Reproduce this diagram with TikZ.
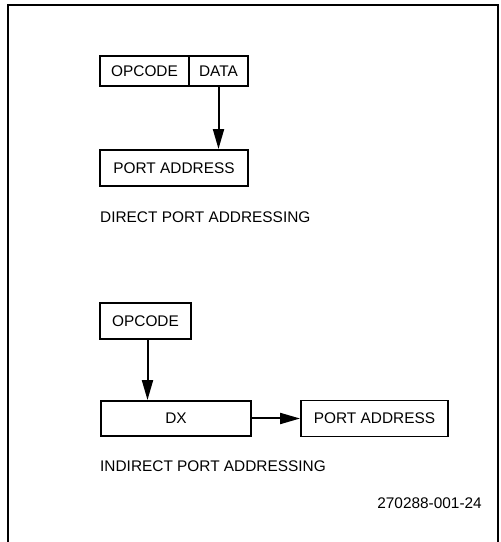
\documentclass[tikz,border=0pt]{standalone}
\usepackage{fontspec}
\setmainfont{Liberation Sans}
\usetikzlibrary{arrows.meta}

\tikzset{
  regbox/.style={draw, line width=1.9pt, inner sep=0pt, font=\fontsize{15.4}{18}\selectfont},
  flow/.style={line width=2pt, -{Triangle[length=20pt,width=11pt]}},
  caption/.style={anchor=west, inner sep=0pt, font=\fontsize{15.4}{18}\selectfont}
}

\begin{document}
\begin{tikzpicture}[x=1pt,y=1pt]
  \useasboundingbox (0,0) rectangle (501,542);
  \draw[line width=1.5pt] (8,0) -- (8,537) -- (498,537) -- (498,0);
  % direct port addressing
  \node[regbox, minimum width=89pt, minimum height=30pt] (opcodeA) at (144.5,471) {OPCODE};
  \node[regbox, minimum width=59pt, minimum height=30pt] (data) at (218.5,471) {DATA};
  \node[regbox, minimum width=148pt, minimum height=36pt] (portA) at (174,374) {PORT ADDRESS};
  \draw[flow] (data.south) -- (data.south |- portA.north);
  \node[caption] (direct) at (100,325) {DIRECT PORT ADDRESSING};
  % indirect port addressing
  \node[regbox, minimum width=91pt, minimum height=36pt] (opcodeB) at (145.5,221) {OPCODE};
  \node[regbox, minimum width=150pt, minimum height=35pt] (dx) at (176,123.5) {DX};
  \node[regbox, minimum width=147pt, minimum height=36pt] (portB) at (374.5,123.5) {PORT ADDRESS};
  \draw[flow] ([xshift=2pt]opcodeB.south) -- ([xshift=2pt]opcodeB.south |- dx.north);
  \draw[flow] (dx.east) -- (portB.west);
  \node[caption] (indirect) at (100,76) {INDIRECT PORT ADDRESSING};
  \node[caption, anchor=east] (figno) at (482,39) {270288-001-24};
\end{tikzpicture}
\end{document}
